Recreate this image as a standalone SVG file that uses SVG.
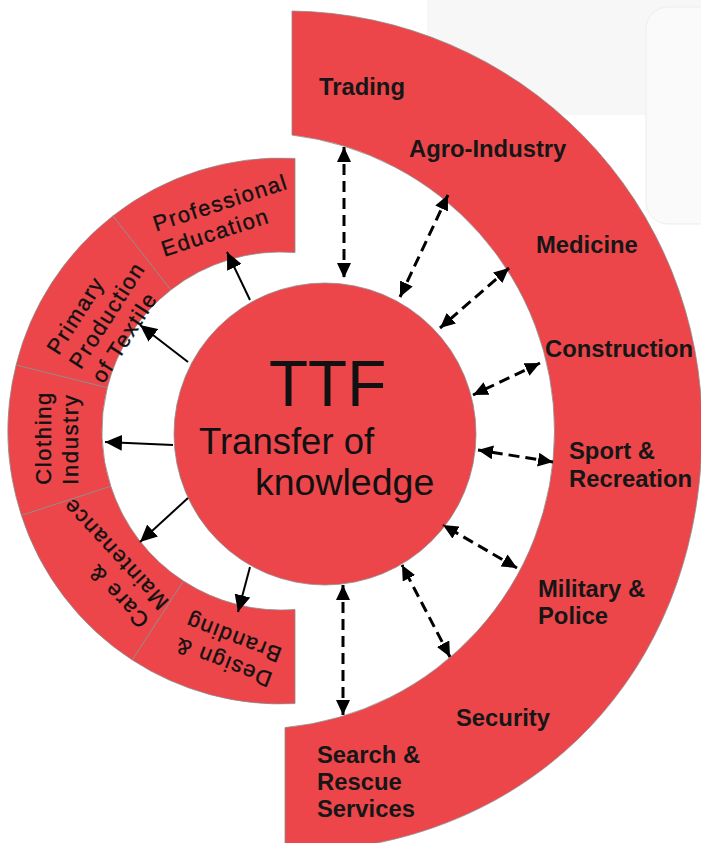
<svg xmlns="http://www.w3.org/2000/svg" width="701" height="843" viewBox="0 0 701 843">
<style>
.red{fill:#EC464A;stroke:#8c8c8c;stroke-width:0.8}
.lbl{font-family:"Liberation Sans",Arial,sans-serif;font-weight:bold;font-size:23.8px;fill:#161616}
.seg{font-family:"Liberation Sans",Arial,sans-serif;font-size:22px;letter-spacing:1.6px;fill:#111;stroke:#111;stroke-width:0.35}
.ctr{font-family:"Liberation Sans",Arial,sans-serif;fill:#111}
.solid{stroke:#000;stroke-width:2;fill:none;marker-end:url(#ah)}
.dash{stroke:#000;stroke-width:3;fill:none;stroke-dasharray:11 6;marker-start:url(#dh);marker-end:url(#dh)}
</style>
<defs>
<marker id="ah" markerUnits="userSpaceOnUse" markerWidth="18" markerHeight="16" refX="17" refY="8" orient="auto">
<path d="M0,0 L17,8 L0,16 Z" fill="#000"/>
</marker>
<marker id="dh" markerUnits="userSpaceOnUse" markerWidth="16" markerHeight="14" refX="15" refY="7" orient="auto-start-reverse">
<path d="M0,0 L15,7 L0,14 Z" fill="#000"/>
</marker>
</defs>
<rect width="701" height="843" fill="#fff"/>
<g id="background">
<rect x="427" y="-10" width="290" height="125" fill="#F7F7F7"/>
<rect x="646" y="7" width="80" height="217" rx="22" fill="#FAFAFA" stroke="#EDEDED" stroke-width="1"/>
</g>
<g id="ring-right">
<path class="red" d="M292,11 A416,416 0 0 1 702,430 C702,675 527,852 285,852 L285,727.6 A298,298 0 0 0 554.5,431 A298,298 0 0 0 292,135.1 Z"/>
</g>
<g id="node-professional-education">
<path class="red" d="M295,158.4 A273,273 0 0 0 112.9,215.9 L170.8,289.9 A179,179 0 0 1 295,252.5 Z"/>
<g transform="translate(156,231.6) rotate(-18)"><text class="seg" x="0" y="0">Professional</text><text class="seg" x="0" y="26.5">Education</text></g>
</g>
<g id="node-primary-production">
<path class="red" d="M112.9,215.9 A273,273 0 0 0 16.1,365 L107.3,387.7 A179,179 0 0 1 170.8,289.9 Z"/>
<g transform="translate(58.5,356) rotate(-57.5)"><text class="seg" x="0" y="0">Primary</text><text class="seg" x="0" y="26.5">Production</text><text class="seg" x="0" y="53">of Textile</text></g>
</g>
<g id="node-clothing-industry">
<path class="red" d="M16.1,365 A273,273 0 0 0 21.4,515.4 L110.8,486.3 A179,179 0 0 1 107.3,387.7 Z"/>
<g transform="translate(51.3,484.7) rotate(-90)"><text class="seg" x="0" y="0">Clothing</text><text class="seg" x="0" y="27">Industry</text></g>
</g>
<g id="node-care-maintenance">
<path class="red" d="M21.4,515.4 A273,273 0 0 0 132.3,660 L183.5,581.1 A179,179 0 0 1 110.8,486.3 Z"/>
<g transform="translate(150.3,619.4) rotate(-133)"><text class="seg" x="0" y="0">Care &amp;</text><text class="seg" x="0" y="26.5">Maintenance</text></g>
</g>
<g id="node-design-branding">
<path class="red" d="M132.3,660 A273,273 0 0 0 295,703.6 L295,609.5 A179,179 0 0 1 183.5,581.1 Z"/>
<g transform="translate(273.4,673.4) rotate(-159)"><text class="seg" x="0" y="0">Design &amp;</text><text class="seg" x="0" y="26.5">Branding</text></g>
</g>
<g id="node-ttf">
<circle class="red" cx="325" cy="434" r="151"/>
<text class="ctr" x="269" y="406" font-size="64">TTF</text>
<text class="ctr" x="199" y="454" font-size="36.5">Transfer of</text>
<text class="ctr" x="255" y="495" font-size="37.5">knowledge</text>
</g>
<g id="node-trading"><text class="lbl" x="319" y="95">Trading</text></g>
<g id="node-agro-industry"><text class="lbl" x="409" y="157">Agro-Industry</text></g>
<g id="node-medicine"><text class="lbl" x="536" y="253">Medicine</text></g>
<g id="node-construction"><text class="lbl" x="545" y="357">Construction</text></g>
<g id="node-sport"><text class="lbl" x="569" y="459">Sport &amp;</text><text class="lbl" x="569" y="487">Recreation</text></g>
<g id="node-military"><text class="lbl" x="538" y="597">Military &amp;</text><text class="lbl" x="538" y="624">Police</text></g>
<g id="node-security"><text class="lbl" x="456" y="726">Security</text></g>
<g id="node-search"><text class="lbl" x="317" y="763">Search &amp;</text><text class="lbl" x="317" y="790">Rescue</text><text class="lbl" x="317" y="817">Services</text></g>
<g id="connectors">
<line class="solid" x1="250" y1="300" x2="227" y2="252"/>
<line class="solid" x1="188" y1="362" x2="140" y2="325"/>
<line class="solid" x1="173" y1="445" x2="105" y2="442"/>
<line class="solid" x1="188" y1="498" x2="140" y2="542"/>
<line class="solid" x1="250" y1="567" x2="238" y2="612"/>
<line class="dash" x1="344" y1="147" x2="344" y2="278"/>
<line class="dash" x1="448" y1="195" x2="400" y2="297"/>
<line class="dash" x1="509" y1="268" x2="440" y2="328"/>
<line class="dash" x1="540" y1="363" x2="473" y2="395"/>
<line class="dash" x1="553" y1="462" x2="478" y2="450"/>
<line class="dash" x1="517" y1="568" x2="443" y2="525"/>
<line class="dash" x1="450" y1="657" x2="402" y2="565"/>
<line class="dash" x1="343" y1="715" x2="343" y2="585"/>
</g>
</svg>
